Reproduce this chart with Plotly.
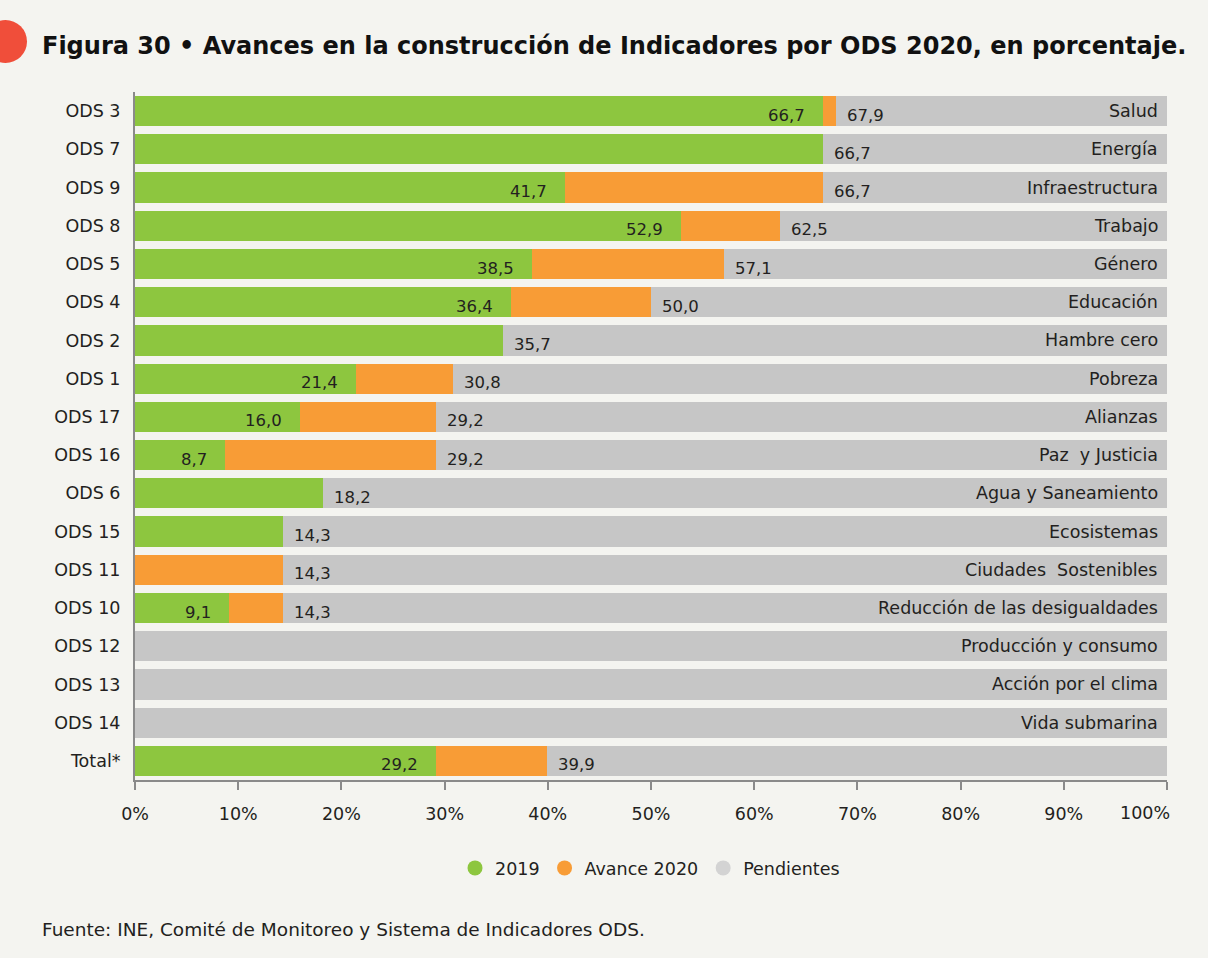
import plotly.graph_objects as go

categories = ["ODS 3", "ODS 7", "ODS 9", "ODS 8", "ODS 5", "ODS 4", "ODS 2", "ODS 1",
              "ODS 17", "ODS 16", "ODS 6", "ODS 15", "ODS 11", "ODS 10", "ODS 12",
              "ODS 13", "ODS 14", "Total*"]
names = ["Salud", "Energía", "Infraestructura", "Trabajo", "Género", "Educación",
         "Hambre cero", "Pobreza", "Alianzas", "Paz  y Justicia", "Agua y Saneamiento",
         "Ecosistemas", "Ciudades  Sostenibles", "Reducción de las desigualdades",
         "Producción y consumo", "Acción por el clima", "Vida submarina", ""]
v2019 = [66.7, 66.7, 41.7, 52.9, 38.5, 36.4, 35.7, 21.4, 16.0, 8.7, 18.2, 14.3, 0.0, 9.1, 0, 0, 0, 29.2]
total2020 = [67.9, 66.7, 66.7, 62.5, 57.1, 50.0, 35.7, 30.8, 29.2, 29.2, 18.2, 14.3, 14.3, 14.3, 0, 0, 0, 39.9]
avance2020 = [round(t - a, 1) for t, a in zip(total2020, v2019)]
pendientes = [round(100 - t, 1) for t in total2020]
x_ticks = [0, 10, 20, 30, 40, 50, 60, 70, 80, 90, 100]
x_ticklabels = [f"{t}%" for t in x_ticks]

GREEN = "#8dc63f"
ORANGE = "#f89c36"
GREY = "#c6c6c6"
BG = "#f4f4f0"
TXT = "#231f20"
FONT = "DejaVu Sans"
FS_VAL = 16.5
FS_LBL = 17.5

fig = go.Figure()
for vals, col, nm in [(v2019, GREEN, "2019"), (avance2020, ORANGE, "Avance 2020"),
                      (pendientes, GREY, "Pendientes")]:
    fig.add_trace(go.Bar(y=categories, x=vals, orientation="h", marker=dict(color=col, line=dict(width=0)),
                         name=nm, showlegend=False, hoverinfo="x+y"))
# legend entries with circle markers
for col, nm in [(GREEN, "2019"), (ORANGE, "Avance 2020"), ("#d3d3d3", "Pendientes")]:
    fig.add_trace(go.Scatter(x=[None], y=[None], mode="markers", name=nm,
                             marker=dict(symbol="circle", size=15, color=col), showlegend=True))

ann = []
for c, a, av, t, nm in zip(categories, v2019, avance2020, total2020, names):
    if av > 0 and a > 0:
        ann.append(dict(x=a, y=c, xref="x", yref="y", text=f"{a:.1f}".replace(".", ","),
                        xanchor="right", yanchor="middle", xshift=-16, yshift=-4, showarrow=False,
                        font=dict(family=FONT, size=FS_VAL, color=TXT)))
    if t > 0:
        ann.append(dict(x=t, y=c, xref="x", yref="y", text=f"{t:.1f}".replace(".", ","),
                        xanchor="left", yanchor="middle", xshift=9, yshift=-4, showarrow=False,
                        font=dict(family=FONT, size=FS_VAL, color=TXT)))
    if nm:
        ann.append(dict(x=100, y=c, xref="x", yref="y", text=nm, xanchor="right", yanchor="middle",
                        xshift=-7, yshift=0, showarrow=False,
                        font=dict(family=FONT, size=FS_LBL, color=TXT)))

# last x tick label is pulled inside the page in the original
ann.append(dict(x=x_ticks[-1], y=0, xref="x", yref="paper", text=x_ticklabels[-1], xanchor="right",
                yanchor="top", xshift=5, yshift=-21, showarrow=False,
                font=dict(family=FONT, size=FS_LBL, color=TXT)))

W, H = 1208, 958
L, R, T, B = 135, 41, 92, 178
pw, ph = W - L - R, H - T - B
def px(x):
    return (x - L) / pw
def py(y):
    return (H - B - y) / ph

ann.append(dict(x=px(40), y=py(46), xref="paper", yref="paper", xanchor="left", yanchor="middle",
                text="<b>Figura 30 • Avances en la construcción de Indicadores por ODS 2020, en porcentaje.</b>",
                showarrow=False, font=dict(family=FONT, size=24, color="#111111")))
ann.append(dict(x=px(40), y=py(929), xref="paper", yref="paper", xanchor="left", yanchor="middle",
                text="Fuente: INE, Comité de Monitoreo y Sistema de Indicadores ODS.",
                showarrow=False, font=dict(family=FONT, size=18.5, color=TXT)))

fig.update_layout(
    width=W, height=H,
    barmode="stack", bargap=0.21,
    paper_bgcolor=BG, plot_bgcolor=BG,
    margin=dict(l=L, r=R, t=T, b=B),
    font=dict(family=FONT, size=FS_LBL, color=TXT),
    xaxis=dict(range=[0, 100], tickvals=x_ticks, ticktext=x_ticklabels[:-1] + [""], showgrid=False,
               zeroline=False, showline=True, linecolor="#8a8a8a", linewidth=2, ticks="outside", ticklen=8,
               tickwidth=2, tickcolor="#8a8a8a", tickfont=dict(family=FONT, size=FS_LBL, color=TXT),
               ticklabelstandoff=9),
    yaxis=dict(categoryorder="array", categoryarray=categories, autorange="reversed",
               showgrid=False, zeroline=False, showline=True, linecolor="#8a8a8a", linewidth=2,
               ticks="", tickfont=dict(family=FONT, size=FS_LBL, color=TXT), ticklabelstandoff=9),
    legend=dict(orientation="h", traceorder="normal", x=px(650), xanchor="center", y=py(868),
                yanchor="middle", bgcolor="rgba(0,0,0,0)", font=dict(family=FONT, size=FS_LBL, color=TXT),
                itemwidth=30, tracegroupgap=0),
    annotations=ann,
    shapes=[dict(type="circle", xref="paper", yref="paper", x0=px(5.5 - 21.5), x1=px(5.5 + 21.5),
                 y0=py(41.5 + 21.5), y1=py(41.5 - 21.5), fillcolor="#f04e3a", line=dict(width=0))],
)

fig.write_html("out.html", config={"displayModeBar": False},
               post_script="document.body.style.margin='0';document.body.style.background='%s';" % BG)
